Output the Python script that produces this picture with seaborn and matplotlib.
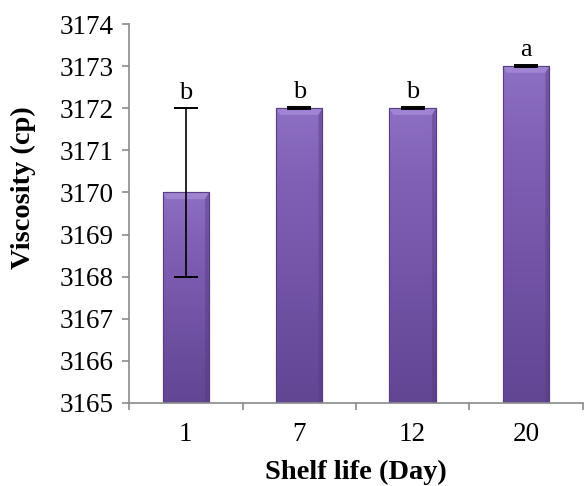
import matplotlib
matplotlib.use("Agg")
import matplotlib.pyplot as plt
from matplotlib.colors import LinearSegmentedColormap
import numpy as np
import seaborn as sns
import pandas as pd

days = ["1", "7", "12", "20"]
viscosity = [3170, 3172, 3172, 3173]
errors = [2.0, 0.03, 0.03, 0.03]
letters = ["b", "b", "b", "a"]
y_ticks = list(range(3165, 3175))

df = pd.DataFrame({"day": days, "viscosity": viscosity})

sns.set_theme(style="white")
plt.rcParams["font.family"] = ["Liberation Serif", "DejaVu Serif"]
plt.rcParams["text.color"] = "black"
plt.rcParams["axes.labelcolor"] = "black"
plt.rcParams["xtick.labelcolor"] = "black"
plt.rcParams["ytick.labelcolor"] = "black"

fig = plt.figure(figsize=(5.84, 4.86), dpi=100)
ax = fig.add_axes([0.221, 0.1708, 0.777, 0.7798])

sns.barplot(data=df, x="day", y="viscosity", order=days, color="#7456a8",
            saturation=1, width=0.41, errorbar=None, ax=ax,
            edgecolor="#5a3d85", linewidth=0.8)

y_min, y_max = y_ticks[0], y_ticks[-1]
ax.set_ylim(y_min, y_max)
ax.set_xlim(-0.5, 3.5)

# soft vertical shading inside each bar, with a lighter cap band
shade = LinearSegmentedColormap.from_list(
    "bar_shade", ["#8d6fc4", "#7f60b5", "#7657aa", "#6c4e9f", "#624593"])
grad = np.linspace(0, 1, 256).reshape(-1, 1)
for patch in list(ax.patches):
    x0, w = patch.get_x(), patch.get_width()
    top = patch.get_y() + patch.get_height()
    bottom = max(patch.get_y(), y_min)
    ax.imshow(grad, cmap=shade, aspect="auto",
              extent=(x0, x0 + w, bottom, top), origin="upper",
              zorder=patch.get_zorder() + 0.1)
    band = 0.16
    inset = 0.035
    ax.fill([x0, x0 + w, x0 + w - inset, x0 + inset],
            [top, top, top - band, top - band],
            color="#a38ad6", alpha=0.8, lw=0,
            zorder=patch.get_zorder() + 0.2)
    ax.fill([x0 + w - inset, x0 + w, x0 + w, x0 + w - inset],
            [bottom, bottom, top, top - band],
            color="#563a80", alpha=0.45, lw=0,
            zorder=patch.get_zorder() + 0.2)
    ax.plot([x0, x0, x0 + w, x0 + w], [bottom, top, top, bottom],
            color="#5a3d85", lw=0.8, zorder=patch.get_zorder() + 0.3)

ax.set_ylim(y_min, y_max)
ax.set_xlim(-0.5, 3.5)

ax.errorbar(range(len(days)), viscosity, yerr=errors, fmt="none",
            ecolor="black", elinewidth=1.2, capsize=8.5, capthick=1.4,
            zorder=5)

for i, (v, e, t) in enumerate(zip(viscosity, errors, letters)):
    ax.annotate(t, (i, v + e), xytext=(0, 3), textcoords="offset points",
                ha="center", va="bottom", fontsize=19, color="black")

ax.set_yticks(y_ticks)
ax.set_yticklabels([str(t) for t in y_ticks], fontsize=19.5)
ax.tick_params(axis="x", labelsize=19.5, pad=14)

ax.set_xlabel("Shelf life (Day)", fontsize=20.5, fontweight="bold", labelpad=9)
ax.set_ylabel("Viscosity (cp)", fontsize=20.5, fontweight="bold")
ax.yaxis.set_label_coords(-0.205, 0.567)

for side in ("top", "right"):
    ax.spines[side].set_visible(False)
for side in ("left", "bottom"):
    ax.spines[side].set_color("#8a8a8a")
    ax.spines[side].set_linewidth(1.2)

ax.tick_params(axis="y", which="major", direction="out", length=5,
               color="#8a8a8a", width=1.2, left=True, pad=6)
ax.set_xticks([i + 0.5 for i in range(-1, 4)], minor=True)
ax.tick_params(axis="x", which="minor", direction="out", length=5,
               color="#8a8a8a", width=1.2, bottom=True)
ax.tick_params(axis="x", which="major", length=0, bottom=False)

fig.savefig("out.png", dpi=100)
